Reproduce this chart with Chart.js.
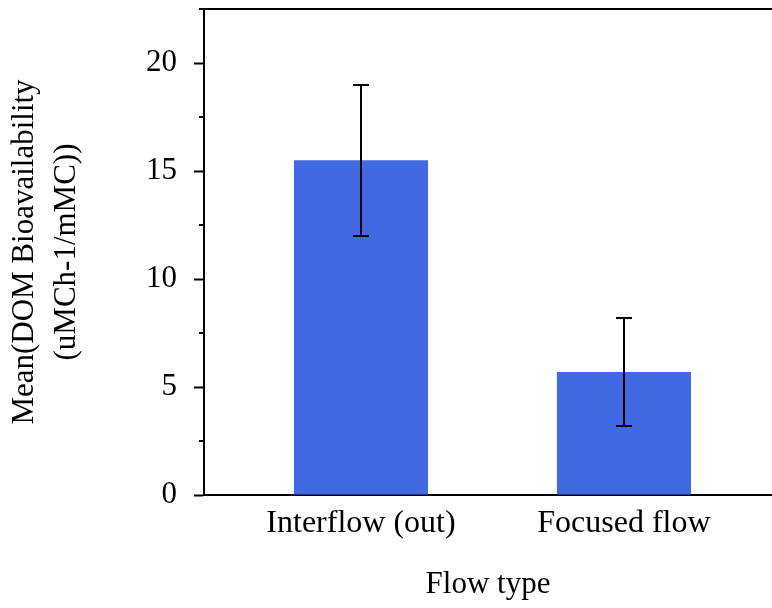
<!DOCTYPE html>
<html lang="en">
<head>
<meta charset="UTF-8">
<title>DOM Bioavailability by Flow Type</title>
<script src="https://cdn.jsdelivr.net/npm/chart.js"></script>
<style>
  html, body { margin: 0; padding: 0; background: #fff; }
  #wrap { width: 772px; height: 608px; }
</style>
</head>
<body>
<div id="wrap"><canvas id="bioChart"></canvas></div>
<script>
// group means with lower / upper error limits
const flowTypes = ['Interflow (out)', 'Focused flow'];
const meanValues = [15.5, 5.7];
const errLow = [12.0, 3.2];
const errHigh = [19.0, 8.2];
const yTicks = [0, 5, 10, 15, 20];
const yMinorTicks = [2.5, 7.5, 12.5, 17.5, 22.5];

Chart.defaults.font.family = "'Liberation Serif', 'Times New Roman', serif";
Chart.defaults.font.size = 31;
Chart.defaults.color = '#000';

// minor ticks on the y axis plus the frame line along the top
const minorTicks = {
    id: 'minorTicks',
    afterDraw(chart) {
        const ctx = chart.ctx;
        const y = chart.scales.y;
        const area = chart.chartArea;
        ctx.save();
        ctx.strokeStyle = '#000';
        ctx.lineWidth = 2;
        ctx.beginPath();
        yMinorTicks.forEach(v => {
            const py = Math.round(y.getPixelForValue(v));
            ctx.moveTo(area.left - 5, py);
            ctx.lineTo(area.left, py);
        });
        const top = Math.round(y.getPixelForValue(y.max));
        ctx.moveTo(area.left, top);
        ctx.lineTo(chart.width, top);
        ctx.stroke();
        ctx.restore();
    }
};

// vertical error bars with caps
const errorBars = {
    id: 'errorBars',
    afterDatasetsDraw(chart) {
        const ctx = chart.ctx;
        const y = chart.scales.y;
        const meta = chart.getDatasetMeta(0);
        ctx.save();
        ctx.strokeStyle = '#000';
        ctx.lineWidth = 2;
        meta.data.forEach((bar, i) => {
            const x = Math.round(bar.x);
            const yHi = Math.round(y.getPixelForValue(errHigh[i]));
            const yLo = Math.round(y.getPixelForValue(errLow[i]));
            ctx.beginPath();
            ctx.moveTo(x, yHi);
            ctx.lineTo(x, yLo);
            ctx.moveTo(x - 8, yHi);
            ctx.lineTo(x + 8, yHi);
            ctx.moveTo(x - 8, yLo);
            ctx.lineTo(x + 8, yLo);
            ctx.stroke();
        });
        ctx.restore();
    }
};

new Chart(document.getElementById('bioChart'), {
    type: 'bar',
    data: {
        datasets: [{
            data: meanValues.map((v, i) => ({ x: i, y: v })),
            backgroundColor: '#4169E1',
            borderWidth: 0,
            barPercentage: 0.51,
            categoryPercentage: 1
        }]
    },
    options: {
        responsive: true,
        maintainAspectRatio: false,
        animation: false,
        layout: { padding: { top: 9, right: 0, bottom: 0, left: 0 } },
        plugins: {
            legend: { display: false },
            tooltip: { enabled: false }
        },
        scales: {
            x: {
                type: 'linear',
                offset: false,
                min: -0.597,
                max: 1.563,
                grid: { display: false, drawTicks: false, offset: false },
                border: { display: true, color: '#000', width: 2 },
                afterBuildTicks: scale => {
                    scale.ticks = flowTypes.map((_, i) => ({ value: i }));
                },
                afterFit: scale => {
                    scale.height = 113;
                    scale.paddingLeft = 0;
                    scale.paddingRight = 0;
                },
                ticks: {
                    autoSkip: false,
                    maxRotation: 0,
                    padding: 9,
                    font: { size: 32 },
                    callback: v => flowTypes[v]
                },
                title: {
                    display: true,
                    text: 'Flow type',
                    padding: { top: 0, bottom: 5 }
                }
            },
            y: {
                min: 0,
                max: 22.5,
                afterBuildTicks: scale => {
                    scale.ticks = yTicks.map(v => ({ value: v }));
                },
                afterFit: scale => {
                    scale.width = 204;
                    scale.paddingTop = 0;
                    scale.paddingBottom = 0;
                },
                grid: {
                    drawOnChartArea: false,
                    drawTicks: true,
                    tickLength: 10,
                    tickColor: '#000',
                    tickWidth: 2
                },
                border: { display: true, color: '#000', width: 2 },
                ticks: { padding: 17 },
                title: {
                    display: true,
                    text: ['Mean(DOM Bioavailability', '(uMCh-1/mMC))'],
                    font: { lineHeight: 1.35 },
                    padding: { top: 4, bottom: 0 }
                }
            }
        }
    },
    plugins: [minorTicks, errorBars]
});
</script>
</body>
</html>
